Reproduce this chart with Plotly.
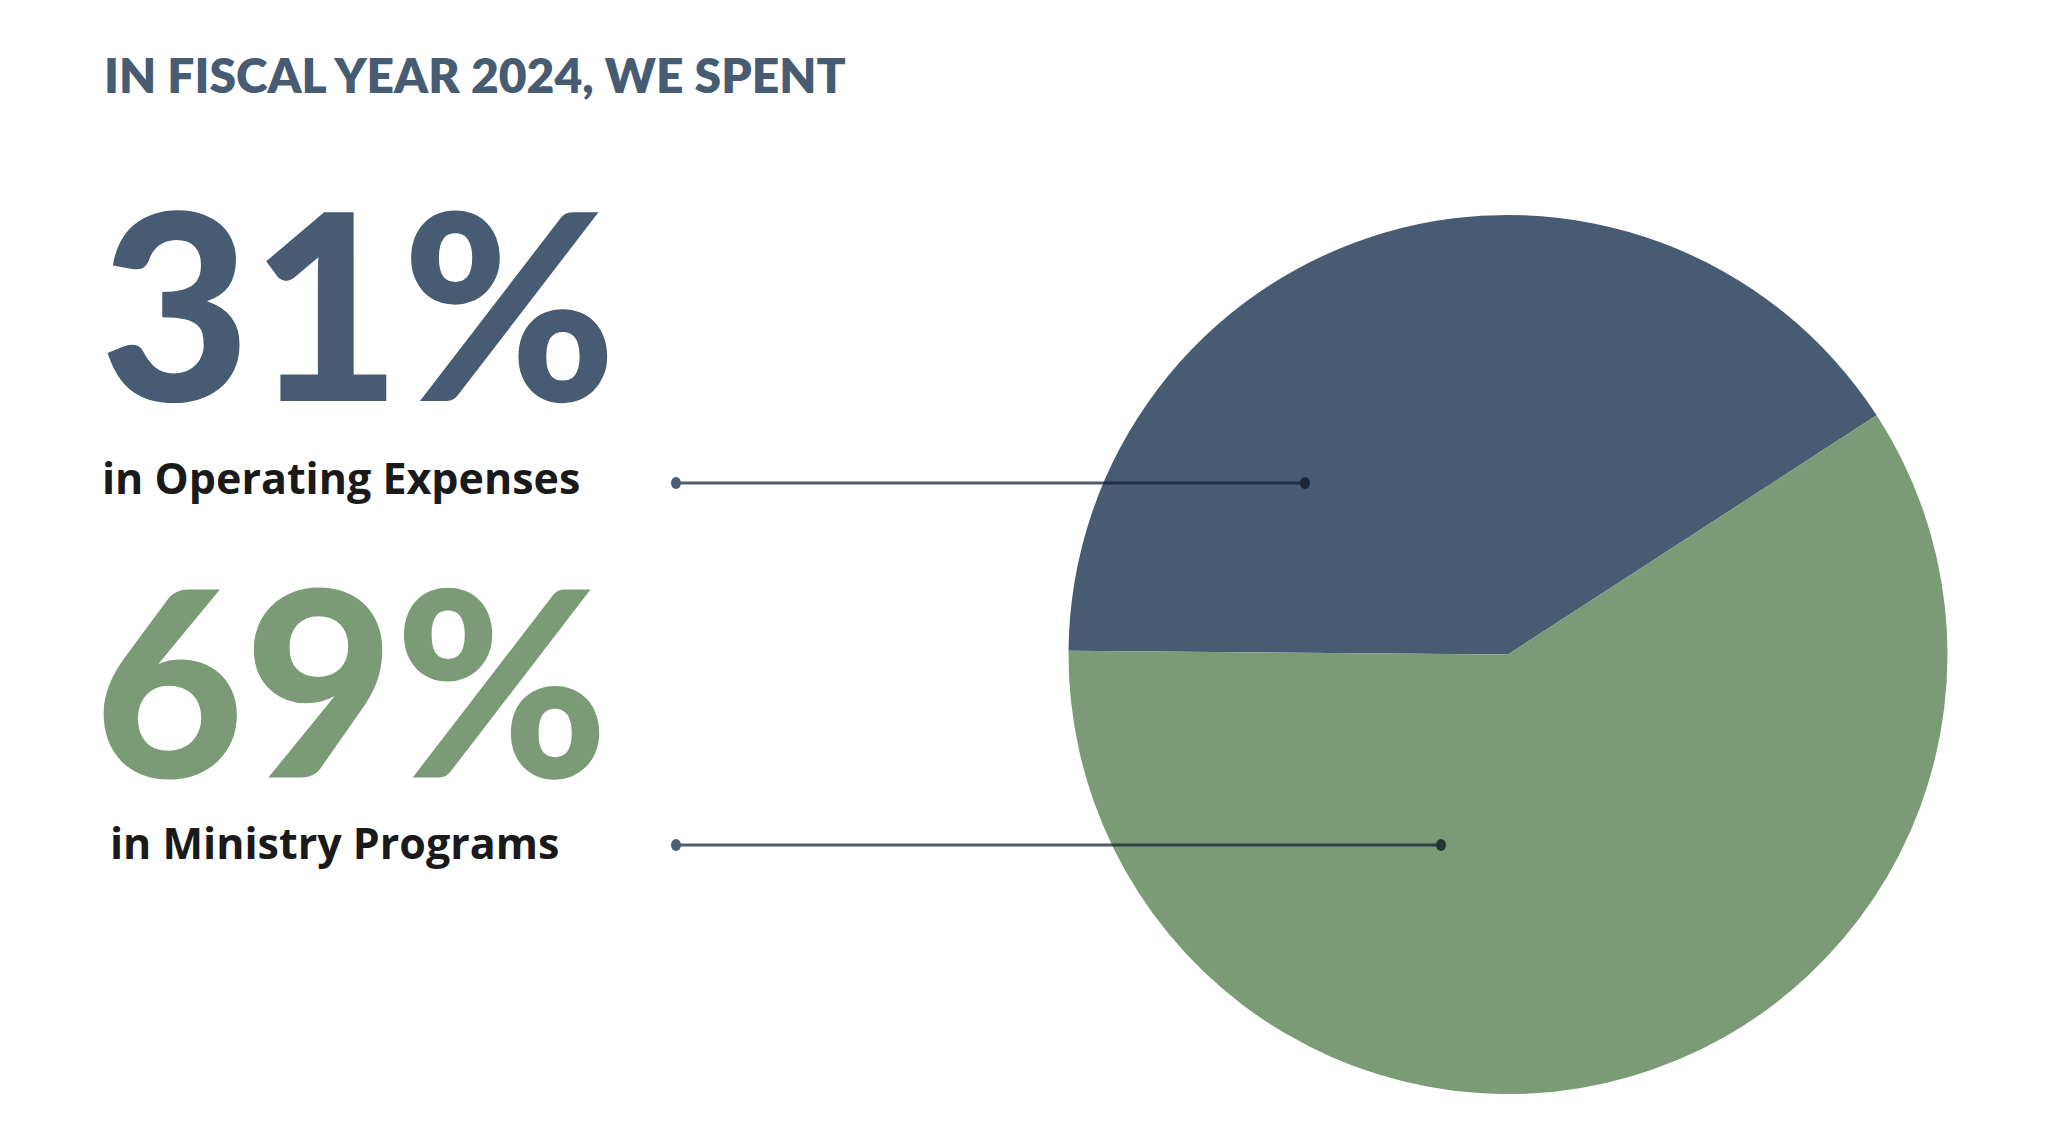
import plotly.graph_objects as go

# ---- data ----
categories = ["Operating Expenses", "Ministry Programs"]
headline_pcts = ["31%", "69%"]                 # printed figures
slice_shares = [40.7, 59.3]                    # slice sizes as drawn in the pie
slice_colors = ["#475C73", "#7B9B76"]
title_text = "IN FISCAL YEAR 2024, WE SPENT"

W, H = 2065, 1135
PAGE_OFF = 8  # default body margin of the exported html page


def px(x):
    return (x - PAGE_OFF) / W


def py(y):
    return 1 - (y - PAGE_OFF) / H


fig = go.Figure()

# pie (disk spans x 1068-1948, y 215-1094 in page pixels)
fig.add_trace(go.Pie(
    labels=categories,
    values=slice_shares,
    marker=dict(colors=slice_colors, line=dict(width=0)),
    sort=False,
    direction="counterclockwise",
    rotation=-89.5,
    textinfo="none",
    hoverinfo="label",
    showlegend=False,
    domain=dict(x=[px(1068), px(1948)], y=[py(1094), py(215)]),
))

ann = []
ann.append(dict(text=title_text, x=px(102), y=py(75), xref="paper", yref="paper",
                xanchor="left", yanchor="middle", showarrow=False,
                font=dict(family="Lato", size=48, color="#475C73", weight=800)))
ann.append(dict(text=headline_pcts[0], x=px(97.5), y=py(300), xref="paper", yref="paper",
                xanchor="left", yanchor="middle", showarrow=False, height=250,
                font=dict(family="Lato", size=260, color=slice_colors[0], weight=900)))
ann.append(dict(text="in " + categories[0], x=px(100), y=py(477.5), xref="paper", yref="paper",
                xanchor="left", yanchor="middle", showarrow=False,
                font=dict(family="Open Sans", size=43, color="#1A1A1A", weight=700)))
ann.append(dict(text=headline_pcts[1], x=px(92), y=py(677), xref="paper", yref="paper",
                xanchor="left", yanchor="middle", showarrow=False, height=250,
                font=dict(family="Lato", size=259, color=slice_colors[1], weight=900)))
ann.append(dict(text="in " + categories[1], x=px(108), y=py(842.5), xref="paper", yref="paper",
                xanchor="left", yanchor="middle", showarrow=False,
                font=dict(family="Open Sans", size=43, color="#1A1A1A", weight=700)))

shapes = []
leaders = [(676, 1305, 483, "#1B2739"), (676, 1441, 845, "#22372F")]
for x0, x1, y, endc in leaders:
    shapes.append(dict(type="line", xref="paper", yref="paper", layer="above",
                       x0=px(x0), x1=px(x1), y0=py(y), y1=py(y),
                       line=dict(color="rgba(15,30,50,0.72)", width=3)))
    r = 6
    shapes.append(dict(type="circle", xref="paper", yref="paper", layer="above",
                       x0=px(x0 - r + 1), x1=px(x0 + r - 1), y0=py(y + r), y1=py(y - r),
                       fillcolor="#4A5F78", line=dict(width=0)))
    shapes.append(dict(type="circle", xref="paper", yref="paper", layer="above",
                       x0=px(x1 - r + 1), x1=px(x1 + r - 1), y0=py(y + r), y1=py(y - r),
                       fillcolor=endc, line=dict(width=0)))

fig.update_layout(
    width=W, height=H,
    margin=dict(l=0, r=0, t=0, b=0),
    paper_bgcolor="white", plot_bgcolor="white",
    annotations=ann, shapes=shapes,
    showlegend=False,
)

fig.write_html("out.html")
